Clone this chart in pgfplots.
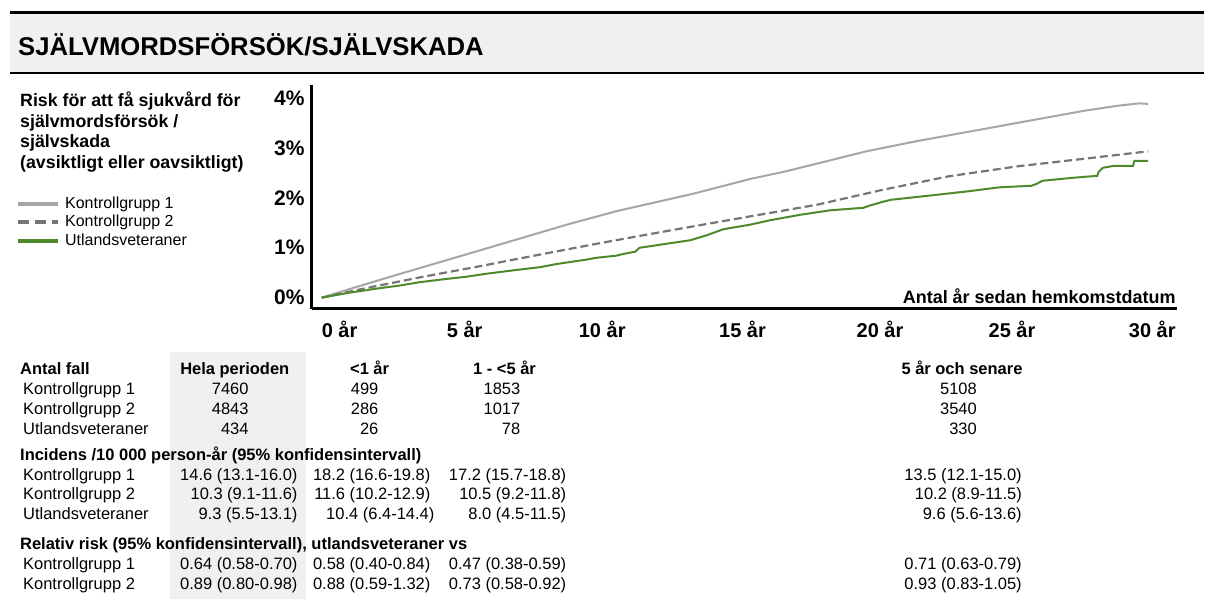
\documentclass[border=0pt]{standalone}
\usepackage{pgfplots}
\pgfplotsset{compat=1.18}
\usepackage{fontspec}
\setmainfont{Liberation Sans}
\definecolor{kgA}{HTML}{A6A6A6}
\definecolor{kgB}{HTML}{767676}
\definecolor{uv}{HTML}{4E8A2C}
\definecolor{band}{HTML}{F0F0F0}
\definecolor{tband}{HTML}{F0F0F0}
\newcommand{\fs}[1]{\fontsize{#1bp}{#1bp}\selectfont}
\begin{document}
\begin{tikzpicture}
\path[fill=white] (0,0) rectangle (1205bp,603bp);
\begin{scope}[x=1bp,y=-1bp,yshift=603bp,
  T/.style={inner sep=0pt,font=\fs{16.5}},
  TB/.style={inner sep=0pt,font={\fs{16.5}\bfseries}},
  L/.style={T,anchor=base west},
  R/.style={T,anchor=base east},
  C/.style={T,anchor=base},
  HL/.style={TB,anchor=base west},
  HC/.style={TB,anchor=base}]
 % title band
 \fill[band] (10,13) rectangle (1205,73);
 \draw[line width=2.5bp] (10,12.5) -- (1205,12.5);
 \draw[line width=2.2bp] (10,73) -- (1205,73);
 \node[anchor=base west,inner sep=0pt,font={\fs{25.7}\bfseries}] at (18,56) {SJÄLVMORDSFÖRSÖK/SJÄLVSKADA};
 % left caption
 \begin{scope}[every node/.style={anchor=base west,inner sep=0pt,font={\fs{17.8}\bfseries}}]
  \node at (20,107) {Risk för att få sjukvård för};
  \node at (20,128) {självmordsförsök /};
  \node at (20,148) {självskada};
  \node at (20,169) {(avsiktligt eller oavsiktligt)};
 \end{scope}
 % legend
 \draw[kgA,line width=4.2bp] (18,204) -- (58,204);
 \draw[kgB,line width=4.2bp,dash pattern=on 11bp off 6bp] (18,222) -- (58,222);
 \draw[uv,line width=4.2bp] (18,241) -- (58,241);
 \begin{scope}[every node/.style={anchor=base west,inner sep=0pt,font=\fs{16}}]
  \node at (65,209) {Kontrollgrupp 1};
  \node at (65,227) {Kontrollgrupp 2};
  \node at (65,246) {Utlandsveteraner};
 \end{scope}
 % axis title
 \node[anchor=base east,inner sep=0pt,font={\fs{18}\bfseries}] at (1177,304) {Antal år sedan hemkomstdatum};
 % table band
 \fill[tband] (170,352) rectangle (306,600);
 % table headers
 \node[HL] at (20,375) {Antal fall};
 \node[HC] at (235,375) {Hela perioden};
 \node[HC] at (370,375) {<1 år};
 \node[HC] at (505,375) {1 - <5 år};
 \node[HC] at (963,375) {5 år och senare};
 \node[L] at (23,395) {Kontrollgrupp 1};
 \node[L] at (23,415) {Kontrollgrupp 2};
 \node[L] at (23,435) {Utlandsveteraner};
 \node[R] at (249,395) {7460};
 \node[R] at (249,415) {4843};
 \node[R] at (249,435) {434};
 \node[R] at (379,395) {499};
 \node[R] at (379,415) {286};
 \node[R] at (379,435) {26};
 \node[R] at (521,395) {1853};
 \node[R] at (521,415) {1017};
 \node[R] at (521,435) {78};
 \node[R] at (978,395) {5108};
 \node[R] at (978,415) {3540};
 \node[R] at (978,435) {330};
 % incidens
 \node[HL] at (20,461) {Incidens /10 000 person-år (95\% konfidensintervall)};
 \node[L] at (23,481) {Kontrollgrupp 1};
 \node[L] at (23,500.5) {Kontrollgrupp 2};
 \node[L] at (23,520) {Utlandsveteraner};
 \node[R] at (298,481) {14.6 (13.1-16.0)};
 \node[R] at (298,500.5) {10.3 (9.1-11.6)};
 \node[R] at (298,520) {9.3 (5.5-13.1)};
 \node[R] at (431,481) {18.2 (16.6-19.8)};
 \node[R] at (431,500.5) {11.6 (10.2-12.9)};
 \node[R] at (435,520) {10.4 (6.4-14.4)};
 \node[R] at (567,481) {17.2 (15.7-18.8)};
 \node[R] at (567,500.5) {10.5 (9.2-11.8)};
 \node[R] at (567,520) {8.0 (4.5-11.5)};
 \node[R] at (1023,481) {13.5 (12.1-15.0)};
 \node[R] at (1023,500.5) {10.2 (8.9-11.5)};
 \node[R] at (1023,520) {9.6 (5.6-13.6)};
 % relativ risk
 \node[HL] at (20,550) {Relativ risk (95\% konfidensintervall), utlandsveteraner vs};
 \node[L] at (23,570.5) {Kontrollgrupp 1};
 \node[L] at (23,590) {Kontrollgrupp 2};
 \node[R] at (298,570.5) {0.64 (0.58-0.70)};
 \node[R] at (298,590) {0.89 (0.80-0.98)};
 \node[R] at (431,570.5) {0.58 (0.40-0.84)};
 \node[R] at (431,590) {0.88 (0.59-1.32)};
 \node[R] at (567,570.5) {0.47 (0.38-0.59)};
 \node[R] at (567,590) {0.73 (0.58-0.92)};
 \node[R] at (1023,570.5) {0.71 (0.63-0.79)};
 \node[R] at (1023,590) {0.93 (0.83-1.05)};
\end{scope}
\begin{axis}[
  at={(312bp,294bp)}, anchor=south west,
  scale only axis, width=866bp, height=224bp,
  xmin=-0.363, xmax=31.09, ymin=-0.22, ymax=4.26,
  axis x line*=bottom, axis y line*=left,
  axis line style={line width=3bp, black},
  xtick={0.65,5.2,10.2,15.3,20.3,25.1,30.2},
  xticklabels={0 år,5 år,10 år,15 år,20 år,25 år,30 år},
  ytick={0,1,2,3,4}, yticklabels={0\%,1\%,2\%,3\%,4\%},
  major tick length=0pt,
  xticklabel style={font={\fs{20}\bfseries}, anchor=base, inner sep=0pt, yshift=-29bp},
  yticklabel style={font={\fs{21}\bfseries}, anchor=east, inner sep=0pt, xshift=-7bp},
]
\addplot[kgA, line width=2bp] coordinates {
(0,0) (1,0.17) (2.5,0.42) (5.4,0.89) (8.9,1.46) (10.7,1.73) (13.5,2.08) (15.6,2.38)
(16.8,2.52) (18.2,2.71) (19.8,2.93) (21.6,3.13) (24.0,3.37) (25.9,3.56) (27.7,3.74)
(28.9,3.84) (29.7,3.89) (30.05,3.88)};
\addplot[kgB, line width=2.2bp, dash pattern=on 8bp off 4bp] coordinates {
(0,0) (1.6,0.19) (3.6,0.41) (5.75,0.63) (7.9,0.86) (10.1,1.09) (12.5,1.33) (15.6,1.63)
(18.0,1.86) (20.4,2.16) (22.8,2.43) (25.3,2.63) (27.7,2.78) (30.05,2.93)};
\addplot[uv, line width=2bp] coordinates {
(0,0) (0.5,0.05) (1,0.1) (1.5,0.14) (2.1,0.19) (2.8,0.24) (3.56,0.31) (4.3,0.36)
(5.26,0.42) (6,0.48) (7,0.55) (7.93,0.61) (8.5,0.67) (9.1,0.72) (9.6,0.76) (10.0,0.80)
(10.7,0.84) (11.0,0.88) (11.4,0.92) (11.56,1.0) (12.3,1.06) (13.4,1.15) (14.0,1.25)
(14.6,1.37) (15.56,1.46) (16.3,1.55) (17.4,1.66) (18.5,1.75) (19.7,1.80) (19.9,1.84)
(20.4,1.92) (20.7,1.96) (22.2,2.05) (23.5,2.13) (24.65,2.21) (25.8,2.24) (26.0,2.28)
(26.2,2.34) (27.3,2.40) (28.2,2.44) (28.25,2.52) (28.4,2.60) (28.8,2.64) (29.5,2.64)
(29.55,2.74) (30.05,2.74)};
\end{axis}
\end{tikzpicture}
\end{document}
